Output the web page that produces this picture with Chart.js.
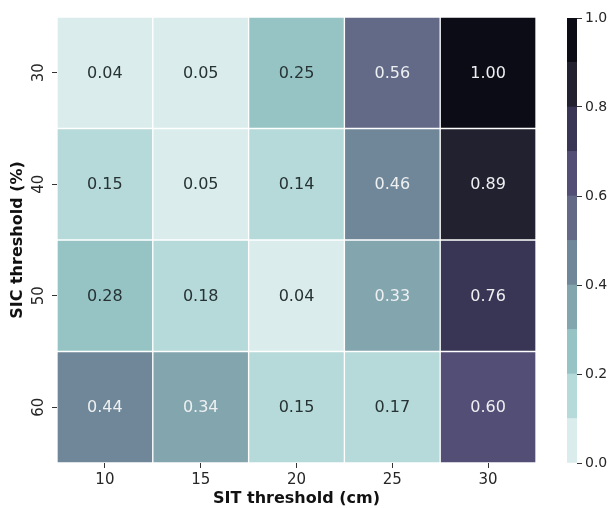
<!DOCTYPE html>
<html>
<head>
<meta charset="utf-8">
<script src="https://cdn.jsdelivr.net/npm/chart.js@4"></script>
<style>
  body { margin: 0; background: #fff; }
  #wrap { position: relative; width: 609px; height: 508px; }
  #wrap canvas { position: absolute; left: 0; top: 0; }
</style>
</head>
<body>
<div id="wrap">
  <canvas id="heat" width="609" height="508"></canvas>
  <canvas id="cbar" width="609" height="508"></canvas>
</div>
<script>
// data
const sitLabels = ['10', '15', '20', '25', '30'];   // x: SIT threshold (cm)
const sicLabels = ['30', '40', '50', '60'];         // y: SIC threshold (%)
const row30 = [0.04, 0.05, 0.25, 0.56, 1.00];
const row40 = [0.15, 0.05, 0.14, 0.46, 0.89];
const row50 = [0.28, 0.18, 0.04, 0.33, 0.76];
const row60 = [0.44, 0.34, 0.15, 0.17, 0.60];
const rows = [row30, row40, row50, row60];

// colorbar bins 0.0 .. 1.0
const binEdges = [0, 0.1, 0.2, 0.3, 0.4, 0.5, 0.6, 0.7, 0.8, 0.9, 1.0];
const binColors = [
    '#dbeced', '#b6d9d9', '#96c4c5', '#83a5ae', '#6f8798',
    '#636a87', '#524e75', '#383654', '#21212f', '#0c0c16'
];

const FONT = "'DejaVu Sans', sans-serif";

function colorFor(v) {
    let i = Math.floor(v * 10 + 1e-9);
    if (i > 9) i = 9;
    return binColors[i];
}

// write the numbers in the cells
const cellText = {
    id: 'cellText',
    afterDatasetsDraw(chart) {
        const ctx = chart.ctx;
        ctx.save();
        ctx.font = '16px ' + FONT;
        ctx.textAlign = 'center';
        ctx.textBaseline = 'middle';
        chart.data.datasets.forEach((ds, di) => {
            const meta = chart.getDatasetMeta(di);
            meta.data.forEach((el, i) => {
                const p = el.getProps(['x', 'y', 'base'], true);
                const v = ds.values[i];
                ctx.fillStyle = v >= 0.3 ? '#eef0f2' : '#263233';
                ctx.fillText(v.toFixed(2), p.x, (p.y + p.base) / 2 + 1);
            });
        });
        ctx.restore();
    }
};

new Chart(document.getElementById('heat'), {
    type: 'bar',
    data: {
        labels: sitLabels,
        datasets: rows.map((vals, r) => ({
            label: sicLabels[r],
            values: vals,
            data: vals.map(() => [r, r + 1]),
            backgroundColor: vals.map(colorFor),
            borderColor: '#ffffff',
            borderWidth: 1,
            borderSkipped: false
        }))
    },
    options: {
        responsive: false,
        animation: false,
        devicePixelRatio: 1,
        layout: { padding: { top: 17, right: 73, left: 0, bottom: 0 } },
        plugins: {
            legend: { display: false },
            tooltip: { enabled: false }
        },
        datasets: {
            bar: { grouped: false, barPercentage: 1, categoryPercentage: 1 }
        },
        scales: {
            x: {
                grid: { offset: false, drawOnChartArea: false, drawTicks: true, tickLength: 5, tickColor: '#333' },
                border: { display: false },
                ticks: { color: '#262626', font: { family: FONT, size: 15 }, padding: 3, maxRotation: 0 },
                title: {
                    display: true,
                    text: 'SIT threshold (cm)',
                    color: '#111',
                    font: { family: FONT, size: 16, weight: 'bold' },
                    padding: { top: 0, bottom: 0 }
                },
                afterFit(scale) { scale.height = 45; }
            },
            y: {
                min: 0,
                max: 4,
                reverse: true,
                afterBuildTicks(scale) {
                    scale.ticks = sicLabels.map((_, i) => ({ value: i + 0.5 }));
                },
                grid: { drawOnChartArea: false, drawTicks: true, tickLength: 5, tickColor: '#333' },
                border: { display: false },
                ticks: {
                    color: '#262626',
                    font: { family: FONT, size: 15 },
                    padding: 3,
                    minRotation: 90,
                    maxRotation: 90,
                    crossAlign: 'center',
                    callback: v => sicLabels[Math.floor(v)]
                },
                title: {
                    display: true,
                    text: 'SIC threshold (%)',
                    color: '#111',
                    font: { family: FONT, size: 16, weight: 'bold' },
                    padding: { top: 8, bottom: 0 }
                },
                afterFit(scale) { scale.width = 57; }
            }
        }
    },
    plugins: [cellText]
});

// colorbar
new Chart(document.getElementById('cbar'), {
    type: 'bar',
    data: {
        labels: ['cb'],
        datasets: binColors.map((c, i) => ({
            data: [[binEdges[i], binEdges[i + 1]]],
            backgroundColor: c,
            borderWidth: 0
        }))
    },
    options: {
        responsive: false,
        animation: false,
        devicePixelRatio: 1,
        layout: { padding: { top: 18, right: 0, left: 567, bottom: 45 } },
        plugins: {
            legend: { display: false },
            tooltip: { enabled: false }
        },
        datasets: {
            bar: { grouped: false, barPercentage: 1, categoryPercentage: 1 }
        },
        scales: {
            x: { display: false },
            y: {
                position: 'right',
                min: 0,
                max: 1,
                grid: { drawOnChartArea: false, drawTicks: true, tickLength: 5, tickColor: '#333' },
                border: { display: false },
                ticks: {
                    stepSize: 0.2,
                    color: '#262626',
                    font: { family: FONT, size: 14 },
                    padding: 3,
                    callback: v => v.toFixed(1)
                },
                afterFit(scale) { scale.width = 32; }
            }
        }
    }
});
</script>
</body>
</html>
